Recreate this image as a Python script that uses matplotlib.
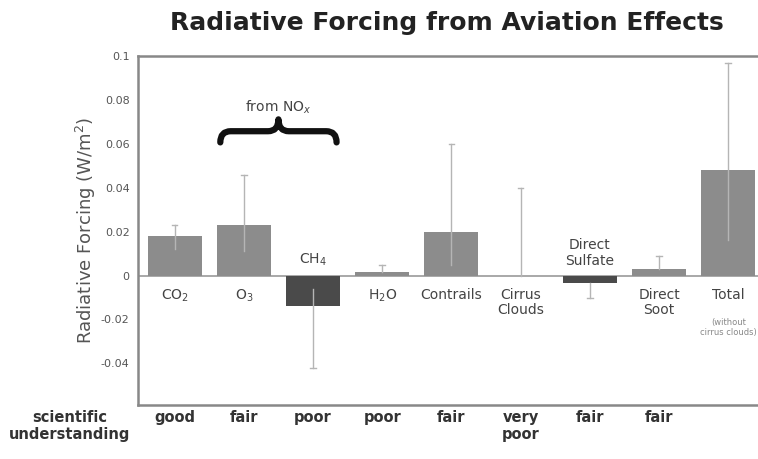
import matplotlib
matplotlib.use("Agg")
import matplotlib.pyplot as plt
from matplotlib.path import Path
from matplotlib.patches import PathPatch

categories = ["CO$_2$", "O$_3$", "CH$_4$", "H$_2$O", "Contrails", "Cirrus\nClouds",
              "Direct\nSulfate", "Direct\nSoot", "Total"]
values = [0.018, 0.023, -0.014, 0.0015, 0.020, 0.0, -0.0035, 0.003, 0.048]
err_low = [0.012, 0.011, -0.006, 0.0015, 0.005, 0.0, -0.0035, 0.003, 0.016]
err_high = [0.023, 0.046, -0.042, 0.005, 0.060, 0.040, -0.010, 0.009, 0.097]
understanding = ["good", "fair", "poor", "poor", "fair", "very\npoor", "fair", "fair"]
yticks = [-0.04, -0.02, 0, 0.02, 0.04, 0.06, 0.08, 0.1]
ytick_labels = ["-0.04", "-0.02", "0", "0.02", "0.04", "0.06", "0.08", "0.1"]

plt.rcParams['font.family'] = ['DejaVu Sans']
fig = plt.figure(figsize=(7.58, 4.59), dpi=100)
ax = fig.add_axes([0.182, 0.1176, 0.818, 0.760])

x = list(range(len(values)))
colors = ["#8c8c8c" if v >= 0 else "#4a4a4a" for v in values]
ax.bar(x, values, width=0.78, color=colors, zorder=2)
for xi, lo, hi in zip(x, err_low, err_high):
    ax.plot([xi, xi], [lo, hi], color="#b5b5b5", lw=1.0, zorder=3)
    ax.plot([xi - 0.04, xi + 0.04], [hi, hi], color="#b5b5b5", lw=1.0, zorder=3)
ax.axhline(0, color="#999999", lw=1.2, zorder=1)

ax.set_xlim(-0.53, 8.43)
ax.set_ylim(-0.059, 0.1)
ax.set_yticks(yticks)
ax.set_yticklabels(ytick_labels, fontsize=8, color="#555555")
ax.set_xticks([])
ax.tick_params(axis='y', length=0, pad=6)
for s in ["left", "top", "bottom"]:
    ax.spines[s].set_color("#888888")
    ax.spines[s].set_linewidth(1.8)
ax.spines["right"].set_visible(False)
ax.set_ylabel("Radiative Forcing (W/m$^2$)", fontsize=13, color="#555555", labelpad=2)

lab_col = "#444444"
for i, c in enumerate(categories):
    if values[i] < 0:
        ax.text(i, 0.0035, c, ha="center", va="bottom", fontsize=10, color=lab_col,
                linespacing=1.15)
    else:
        ax.text(i, -0.0055, c, ha="center", va="top", fontsize=10, color=lab_col,
                linespacing=1.15)
ax.text(8, -0.0195, "(without\ncirrus clouds)", ha="center", va="top", fontsize=6,
        color="#888888", linespacing=1.1)

# brace for NOx
xl, xr, xm = 0.66, 2.34, 1.5
yb, ym, yp = 0.0607, 0.0658, 0.0712
codes = [Path.MOVETO, Path.CURVE3, Path.CURVE3, Path.LINETO,
         Path.LINETO, Path.CURVE3, Path.CURVE3,
         Path.LINETO,
         Path.CURVE3, Path.CURVE3, Path.LINETO,
         Path.LINETO, Path.CURVE3, Path.CURVE3, Path.LINETO]
verts = [(xl, yb), (xl, ym), (xl + 0.15, ym),
         (xm - 0.15, ym),
         (xm - 0.15, ym), (xm, ym), (xm, yp),
         (xm, yp),
         (xm, ym), (xm + 0.15, ym), (xm + 0.15, ym),
         (xr - 0.15, ym), (xr, ym), (xr, yb), (xr, yb)]
ax.add_patch(PathPatch(Path(verts, codes), fill=False, lw=4.5, color="#111111",
                       capstyle="round", joinstyle="round", zorder=4))
ax.text(xm, 0.0768, "from NO$_x$", ha="center", va="center", fontsize=10, color=lab_col)

fig.text(0.59, 0.950, "Radiative Forcing from Aviation Effects", ha="center", va="center",
         fontsize=18, fontweight="bold", color="#222222")

fig.text(70 / 758, 1 - 410 / 459, "scientific\nunderstanding", ha="center", va="top",
         fontsize=10.5, fontweight="bold", color="#333333", linespacing=1.2)
for i, u in enumerate(understanding):
    xf = ax.transData.transform((i, 0))[0] / fig.dpi / 7.58
    fig.text(xf, 1 - 410 / 459, u, ha="center", va="top", fontsize=10.5,
             fontweight="bold", color="#333333", linespacing=1.2)

fig.savefig("out.png", dpi=100)
